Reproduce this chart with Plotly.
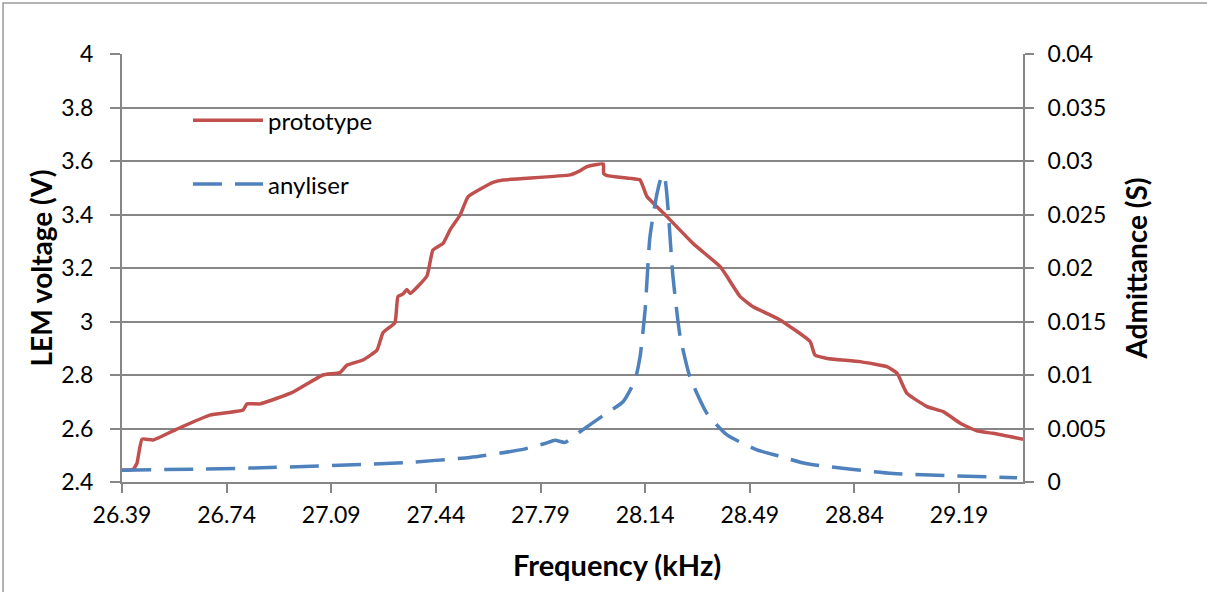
import plotly.graph_objects as go

# prototype: LEM voltage (V) vs frequency (kHz)
proto_freq = [26.390, 26.427, 26.440, 26.457, 26.494, 26.574, 26.684, 26.795, 26.808, 26.852,
              26.962, 27.062, 27.119, 27.143, 27.196, 27.243, 27.263, 27.303, 27.313, 27.330,
              27.343, 27.354, 27.410, 27.430, 27.464, 27.487, 27.521, 27.548, 27.631, 27.665,
              27.889, 27.916, 27.946, 28.000, 28.001, 28.013, 28.090, 28.123, 28.133, 28.146,
              28.213, 28.300, 28.391, 28.414, 28.458, 28.501, 28.591, 28.692, 28.708, 28.749,
              28.859, 28.949, 28.983, 29.016, 29.083, 29.137, 29.194, 29.250, 29.304, 29.404]
proto_volt = [2.445, 2.447, 2.47, 2.56, 2.557, 2.598, 2.65, 2.669, 2.692, 2.692,
              2.736, 2.80, 2.809, 2.837, 2.856, 2.893, 2.958, 2.996, 3.093, 3.103,
              3.12, 3.105, 3.17, 3.267, 3.292, 3.342, 3.398, 3.467, 3.52, 3.529,
              3.548, 3.56, 3.579, 3.589, 3.554, 3.545, 3.535, 3.529, 3.504, 3.467,
              3.392, 3.292, 3.205, 3.168, 3.093, 3.055, 3.006, 2.925, 2.875, 2.862,
              2.85, 2.831, 2.806, 2.731, 2.682, 2.663, 2.62, 2.591, 2.582, 2.56]

# analyser: admittance (S) vs frequency (kHz)
any_freq = [26.390, 26.818, 27.330, 27.554, 27.722, 27.805, 27.839, 27.872, 27.922, 27.999,
            28.066, 28.106, 28.123, 28.140, 28.156, 28.180, 28.197, 28.207, 28.217, 28.233,
            28.257, 28.290, 28.347, 28.414, 28.514, 28.591, 28.682, 28.970, 29.384]
any_adm = [0.0011, 0.0013, 0.0018, 0.0023, 0.0030, 0.0036, 0.0039, 0.0037, 0.0047, 0.0062,
           0.0075, 0.0095, 0.0117, 0.0161, 0.0229, 0.0270, 0.0287, 0.0282, 0.0254, 0.0192,
           0.0136, 0.0098, 0.0064, 0.0044, 0.0030, 0.0024, 0.0017, 0.0008, 0.0004]

x_ticks = [26.39, 26.74, 27.09, 27.44, 27.79, 28.14, 28.49, 28.84, 29.19]
x_labels = ['26.39', '26.74', '27.09', '27.44', '27.79', '28.14', '28.49', '28.84', '29.19']
y1_ticks = [2.4, 2.6, 2.8, 3.0, 3.2, 3.4, 3.6, 3.8, 4.0]
y1_labels = ['2.4', '2.6', '2.8', '3', '3.2', '3.4', '3.6', '3.8', '4']
y2_ticks = [0, 0.005, 0.01, 0.015, 0.02, 0.025, 0.03, 0.035, 0.04]
y2_labels = ['0', '0.005', '0.01', '0.015', '0.02', '0.025', '0.03', '0.035', '0.04']

RED = '#C0504D'
BLUE = '#4F81BD'
GRID = '#868686'
FONT = 'Lato, Open Sans, sans-serif'
DASH = '29px,13px'

fig = go.Figure()
fig.add_trace(go.Scatter(x=proto_freq, y=proto_volt, mode='lines', name='prototype',
                         line=dict(color=RED, width=3.5, shape='spline', smoothing=0.4)))
fig.add_trace(go.Scatter(x=any_freq, y=any_adm, mode='lines', name='anyliser', yaxis='y2',
                         line=dict(color=BLUE, width=3.5, dash=DASH,
                                   shape='spline', smoothing=0.5)))

# legend drawn by hand so the line samples match the long Excel-style swatches
legend_items = [('prototype', RED, 'solid', 3.752), ('anyliser', BLUE, DASH, 3.514)]
for name, color, dash, yv in legend_items:
    fig.add_shape(type='line', xref='paper', yref='y', x0=0.0788, x1=0.1565, y0=yv, y1=yv,
                  line=dict(color=color, width=3.5, dash=dash))
    fig.add_annotation(xref='paper', yref='y', x=0.1625, y=yv, text=name, showarrow=False,
                       xanchor='left', yanchor='middle', xshift=-2,
                       font=dict(size=24, color='#000'))

# x-axis title sits centred on the whole chart, not the plot area
fig.add_annotation(xref='paper', yref='paper', x=0.5494, y=-0.1916, showarrow=False,
                   text='<b>Frequency (kHz)</b>', xanchor='center', yanchor='middle',
                   font=dict(size=29, color='#000'))

# outer chart frame
fig.add_shape(type='rect', xref='paper', yref='paper', x0=-0.132, x1=1.3, y0=-0.4, y1=1.119,
              line=dict(color='#9a9a9a', width=1.5), fillcolor='rgba(0,0,0,0)', layer='below')

fig.update_layout(
    width=1207, height=592,
    template='plotly_white',
    paper_bgcolor='white', plot_bgcolor='white',
    showlegend=False,
    font=dict(family=FONT, size=23, color='#000'),
    margin=dict(t=54, l=122, r=184, b=110),
    xaxis=dict(range=[26.39, 29.404], tickvals=x_ticks, ticktext=x_labels,
               showgrid=False, zeroline=False, showline=True, linecolor=GRID, linewidth=2,
               ticks='outside', ticklen=9, tickcolor=GRID, tickwidth=2, ticklabelstandoff=2),
    yaxis=dict(range=[2.4, 4.0], tickvals=y1_ticks, ticktext=y1_labels,
               showgrid=True, gridcolor=GRID, gridwidth=2, zeroline=False,
               showline=True, linecolor=GRID, linewidth=2,
               ticks='outside', ticklen=10, tickcolor=GRID, tickwidth=2, ticklabelstandoff=12,
               title=dict(text='<b>LEM voltage (V)</b>', font=dict(size=28), standoff=0)),
    yaxis2=dict(range=[0, 0.04], tickvals=y2_ticks, ticktext=y2_labels, overlaying='y',
                side='right', showgrid=False, zeroline=False,
                showline=True, linecolor=GRID, linewidth=2,
                ticks='outside', ticklen=9, tickcolor=GRID, tickwidth=2, ticklabelstandoff=9,
                title=dict(text='<b>Admittance (S)</b>', font=dict(size=28), standoff=22)),
)

fig.write_html('out.html', config={'displayModeBar': False},
               post_script="document.body.style.margin='0';")
